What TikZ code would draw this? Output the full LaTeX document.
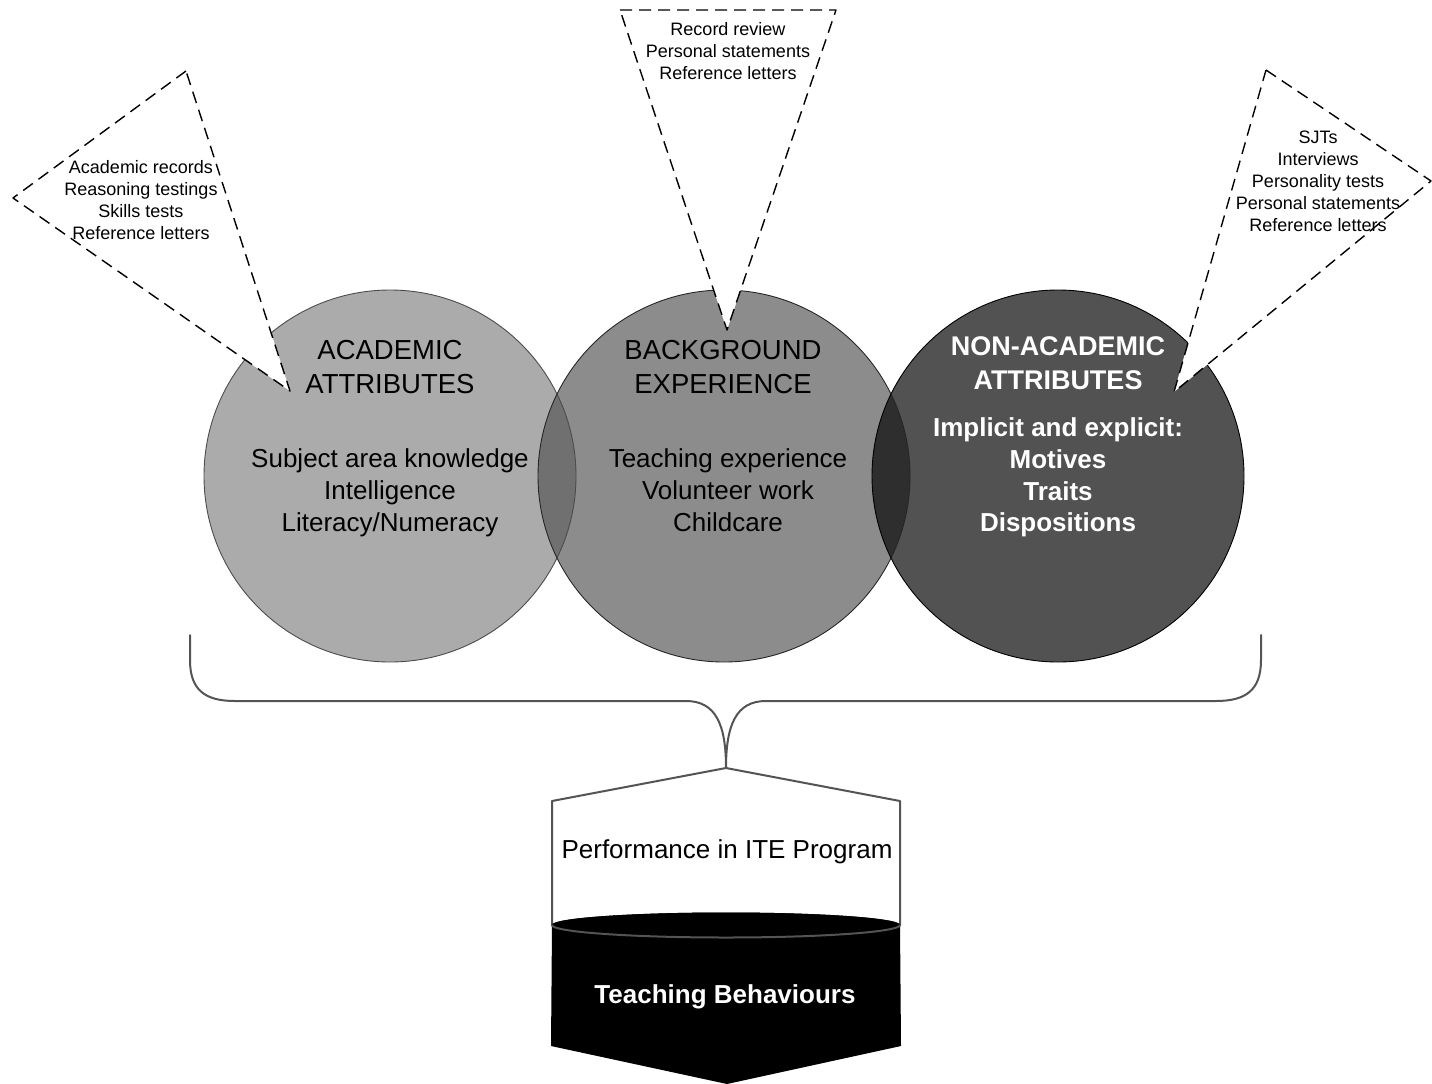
\documentclass[tikz,border=0pt]{standalone}
\usepackage{fontspec}
\setmainfont{Liberation Sans}
\usetikzlibrary{positioning}

\definecolor{acadgray}{gray}{0.67}
\definecolor{expgray}{gray}{0.55}
\definecolor{nongray}{gray}{0.32}
\definecolor{lensone}{gray}{0.44}
\definecolor{lenstwo}{gray}{0.18}
\definecolor{linegray}{gray}{0.33}

\tikzset{
  attr/.style={circle, minimum size=372pt, inner sep=0pt},
  toolbox/.style={fill=white, draw=black, dash pattern=on 12pt off 7pt, line width=1.4pt, line join=round},
  toollist/.style={align=center, inner sep=0pt, font=\fontsize{18}{22}\selectfont},
  attrtitle/.style={align=center, inner sep=0pt, font=\fontsize{27.5}{34}\selectfont},
  attritems/.style={align=center, inner sep=0pt, font=\fontsize{26}{32}\selectfont},
  outline/.style={draw=linegray, line width=2pt, line join=round}
}

\begin{document}
\begin{tikzpicture}[x=1pt, y=-1pt]
\useasboundingbox (0,0) rectangle (1432,1084);

% Circles
\node[attr, fill=acadgray] (acad) at (390,476) {};
\node[attr, fill=expgray] (exp) at (724,476) {};
\node[attr, fill=nongray] (nonacad) at (1058,476) {};

% Overlaps
\begin{scope}
\clip (acad.center) circle (186pt);
\fill[lensone] (exp.center) circle (186pt);
\end{scope}
\begin{scope}
\clip (exp.center) circle (186pt);
\fill[lenstwo] (nonacad.center) circle (186pt);
\end{scope}
\draw[gray!60!black, line width=0.9pt] (acad.center) circle (186pt);
\draw[black!85, line width=0.9pt] (exp.center) circle (186pt);
\draw[black, line width=0.9pt] (nonacad.center) circle (186pt);

% Selection tools
\draw[toolbox] (186,71) -- (13,198) -- (290,391) -- cycle;
\draw[toolbox] (620,10) -- (836,10) -- (727,330) -- cycle;
\draw[toolbox] (1266,70) -- (1431,181) -- (1174,392) -- cycle;

\node[toollist] (acadtools) at (141,200) {Academic records\\Reasoning testings\\Skills tests\\Reference letters};
\node[toollist] (exptools) at (728,51) {Record review\\Personal statements\\Reference letters};
\node[toollist] (nontools) at (1318,181) {SJTs\\Interviews\\Personality tests\\Personal statements\\Reference letters};

% Circle texts
\node[attrtitle] (acadtitle) at (390,367) {ACADEMIC\\ATTRIBUTES};
\node[attritems] (acaditems) at (390,493) {Subject area knowledge\\Intelligence\\Literacy/Numeracy};
\node[attrtitle] (exptitle) at (723,367) {BACKGROUND\\EXPERIENCE};
\node[attritems] (expitems) at (728,490) {Teaching experience\\Volunteer work\\Childcare};
\node[attrtitle, white, font=\fontsize{27}{34}\selectfont\bfseries] (nontitle) at (1058,363) {NON-ACADEMIC\\ATTRIBUTES};
\node[attritems, white, font=\fontsize{26}{31.7}\selectfont\bfseries] (nonitems) at (1058,477.5) {Implicit and explicit:\\Motives\\Traits\\Dispositions};

% Brace
\coordinate (bracetip) at (726,768);
\draw[outline, line cap=round] (190,635) -- (190,660) .. controls (190,690) and (205,701) .. (235,701) -- (686,701) .. controls (716,701) and (726,725) .. (bracetip);
\draw[outline, line cap=round] (1261,635) -- (1261,660) .. controls (1261,690) and (1246,701) .. (1216,701) -- (766,701) .. controls (736,701) and (726,725) .. (bracetip);

% Outcome shapes
\draw[outline, fill=white] (bracetip) -- (900,801) -- (900,925) arc[start angle=0, end angle=-180, x radius=174pt, y radius=12.5pt] -- (552,801) -- cycle;
\fill[black] (552,925) arc[start angle=180, end angle=0, x radius=174pt, y radius=12.5pt] -- (901,1046) -- (727,1084) -- (551,1046) -- cycle;
\fill[black] (726,925) ellipse (174pt and 12.5pt);
\draw[outline] (900,925) arc[start angle=0, end angle=-180, x radius=174pt, y radius=12.5pt];

\node[attritems] (perf) at (727,852) {Performance in ITE Program};
\node[attritems, white, font=\fontsize{26}{32}\selectfont\bfseries] (teach) at (725,997) {Teaching Behaviours};

\end{tikzpicture}
\end{document}
